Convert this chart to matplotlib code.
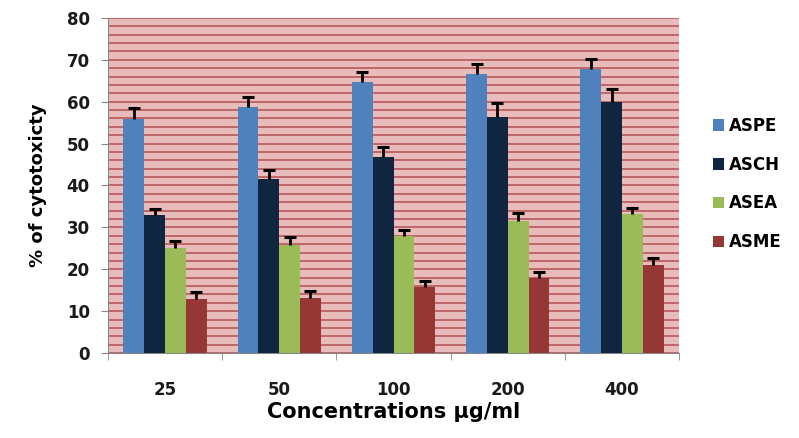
import numpy as np
import matplotlib.pyplot as plt

concentrations = ["25", "50", "100", "200", "400"]
series = ["ASPE", "ASCH", "ASEA", "ASME"]
aspe = [55.9, 58.8, 64.8, 66.6, 67.8]
asch = [33.0, 41.5, 46.9, 56.4, 60.0]
asea = [25.0, 25.8, 27.9, 31.6, 33.2]
asme = [12.8, 13.1, 15.8, 17.8, 21.0]
aspe_err = [2.6, 2.3, 2.4, 2.4, 2.4]
asch_err = [1.4, 2.3, 2.4, 3.2, 3.1]
asea_err = [1.8, 2.0, 1.5, 1.8, 1.5]
asme_err = [1.7, 1.7, 1.4, 1.5, 1.6]
colors = ["#4f81bd", "#10253f", "#9bbb59", "#953735"]

values = [aspe, asch, asea, asme]
errors = [aspe_err, asch_err, asea_err, asme_err]

fig = plt.figure(figsize=(7.99, 4.38), dpi=100, facecolor="white")
ax = fig.add_axes([0.135, 0.194, 0.715, 0.765])
ax.set_facecolor("#e8bcbb")

x = np.arange(len(concentrations))
w = 0.182
for i, (name, vals, err, c) in enumerate(zip(series, values, errors, colors)):
    pos = x + (i - 1.5) * w
    vals = np.array(vals)
    top = vals + np.array(err)
    ax.bar(pos, vals, w, color=c, label=name, zorder=3)
    # plus-only error bars (line up from bar top with a cap)
    ax.vlines(pos, vals, top, color="black", lw=2, zorder=4)
    ax.plot(pos, top, ls="none", marker="_", ms=9, mew=2.2, color="black", zorder=4)

ax.set_xlim(-0.5, len(concentrations) - 0.5)
ax.set_ylim(0, 80)
ax.set_yticks(np.arange(0, 81, 10))
ax.set_yticks(np.arange(0, 81, 2), minor=True)
ax.grid(which="both", axis="y", color="#a8393c", lw=1.3, alpha=0.7, zorder=1)
ax.set_axisbelow(True)

ax.set_xticks(x)
ax.set_xticklabels(concentrations)
ax.set_xticks(np.arange(-0.5, len(concentrations), 1), minor=True)
ax.tick_params(axis="x", which="major", length=0, pad=20)
ax.tick_params(axis="x", which="minor", length=5, color="#888888")
ax.tick_params(axis="y", which="major", length=5, color="#888888", pad=8)
ax.tick_params(axis="y", which="minor", length=0)
for lab in ax.get_xticklabels() + ax.get_yticklabels():
    lab.set_fontsize(12)
    lab.set_fontweight("bold")
    lab.set_color("#1a1a1a")

for s in ["top", "right"]:
    ax.spines[s].set_visible(False)
for s in ["left", "bottom"]:
    ax.spines[s].set_color("#888888")

ax.set_ylabel("% of cytotoxicty", fontsize=13, fontweight="bold", labelpad=14)
ax.set_xlabel("Concentrations \u03bcg/ml", fontsize=15, fontweight="bold", labelpad=2)

leg = fig.legend(loc="center left", bbox_to_anchor=(0.873, 0.58), frameon=False,
                 prop={"size": 12, "weight": "bold"}, handlelength=0.7,
                 handleheight=0.7, handletextpad=0.3, labelspacing=1.25)

fig.savefig("out.png", dpi=100)
